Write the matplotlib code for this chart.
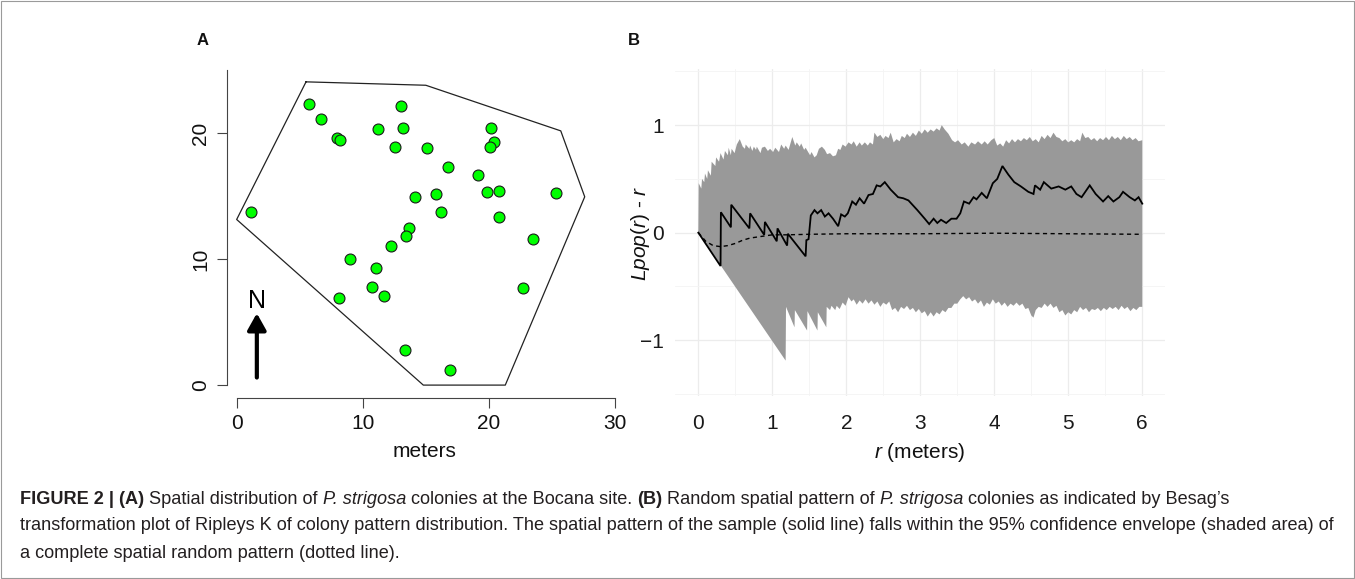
import matplotlib
matplotlib.use("Agg")
import matplotlib.pyplot as plt
from matplotlib import font_manager
from matplotlib.font_manager import FontProperties
from matplotlib.patches import Rectangle

W, H, DPI = 1355, 579, 100

# ---------------- Panel A data (meters) ----------------
colony_x = [5.74, 6.66, 7.93, 8.19, 1.14, 11.23, 13.00, 13.19, 12.56, 15.07, 16.79,
            20.14, 20.41, 20.12, 19.11, 19.88, 20.78, 25.32, 14.14, 15.83, 16.20,
            20.80, 13.69, 13.43, 12.21, 23.50, 8.99, 11.05, 10.73, 11.71, 8.14,
            22.68, 13.35, 16.94]
colony_y = [22.33, 21.11, 19.63, 19.42, 13.76, 20.32, 22.17, 20.37, 18.89, 18.84, 17.33,
            20.37, 19.29, 18.89, 16.67, 15.34, 15.40, 15.26, 14.89, 15.18, 13.70,
            13.35, 12.48, 11.84, 11.05, 11.61, 10.02, 9.28, 7.82, 7.08, 6.95,
            7.69, 2.78, 1.19]
hull_x = [5.5, 15.0, 25.7, 27.6, 21.3, 14.8, 0.0, 5.5]
hull_y = [24.06, 23.79, 20.17, 14.94, 0.0, 0.0, 13.14, 24.06]
a_xticks = [0, 10, 20, 30]
a_yticks = [0, 10, 20]

# ---------------- Panel B data ----------------
env_upper = [
    (0, 0), (0.005, 0.46), (0.04, 0.41), (0.05, 0.50), (0.08, 0.47), (0.09, 0.55), (0.12, 0.50),
    (0.13, 0.58), (0.17, 0.53), (0.18, 0.66), (0.23, 0.62), (0.24, 0.70), (0.28, 0.66), (0.30, 0.74),
    (0.34, 0.68), (0.36, 0.76), (0.40, 0.72), (0.41, 0.79), (0.44, 0.72), (0.45, 0.78), (0.49, 0.74),
    (0.52, 0.82), (0.56, 0.87), (0.60, 0.80), (0.63, 0.78), (0.64, 0.82), (0.69, 0.78), (0.70, 0.81),
    (0.73, 0.76), (0.75, 0.80), (0.78, 0.77), (0.79, 0.80), (0.84, 0.74), (0.86, 0.79), (0.90, 0.80),
    (0.94, 0.76), (0.97, 0.78), (1.01, 0.75), (1.04, 0.79), (1.09, 0.75), (1.12, 0.82), (1.16, 0.78),
    (1.18, 0.81), (1.22, 0.77), (1.27, 0.89), (1.31, 0.81), (1.33, 0.84), (1.37, 0.80), (1.39, 0.83),
    (1.43, 0.77), (1.45, 0.79), (1.51, 0.72), (1.53, 0.75), (1.57, 0.70), (1.60, 0.72), (1.63, 0.78),
    (1.67, 0.80), (1.71, 0.77), (1.74, 0.73), (1.78, 0.74), (1.82, 0.71), (1.86, 0.72), (1.89, 0.78),
    (1.92, 0.77), (1.95, 0.82), (1.99, 0.80), (2.03, 0.84), (2.07, 0.82), (2.10, 0.85), (2.14, 0.80),
    (2.18, 0.84), (2.21, 0.81), (2.25, 0.84), (2.29, 0.81), (2.32, 0.84), (2.36, 0.82), (2.38, 0.93),
    (2.42, 0.89), (2.46, 0.91), (2.50, 0.87), (2.53, 0.90), (2.57, 0.88), (2.60, 0.93), (2.64, 0.84),
    (2.68, 0.87), (2.72, 0.85), (2.75, 0.90), (2.79, 0.88), (2.82, 0.92), (2.86, 0.89), (2.90, 0.93),
    (2.94, 0.90), (2.98, 0.95), (3.02, 0.92), (3.06, 0.96), (3.10, 0.93), (3.14, 0.96), (3.18, 0.94),
    (3.22, 0.97), (3.26, 0.95), (3.29, 1.00), (3.33, 0.96), (3.38, 0.92), (3.43, 0.86), (3.47, 0.84),
    (3.51, 0.86), (3.56, 0.82), (3.60, 0.84), (3.65, 0.80), (3.69, 0.84), (3.74, 0.82), (3.78, 0.85),
    (3.83, 0.82), (3.87, 0.85), (3.91, 0.82), (3.96, 0.86), (4.00, 0.88), (4.04, 0.81), (4.08, 0.83),
    (4.12, 0.80), (4.16, 0.86), (4.20, 0.83), (4.24, 0.87), (4.28, 0.84), (4.32, 0.87), (4.36, 0.85),
    (4.40, 0.88), (4.44, 0.86), (4.48, 0.89), (4.52, 0.85), (4.56, 0.87), (4.60, 0.84), (4.64, 0.90),
    (4.68, 0.87), (4.72, 0.91), (4.76, 0.88), (4.80, 0.93), (4.84, 0.89), (4.88, 0.88), (4.92, 0.85),
    (4.96, 0.87), (5.00, 0.84), (5.04, 0.86), (5.08, 0.84), (5.12, 0.87), (5.16, 0.85), (5.19, 0.93),
    (5.23, 0.88), (5.27, 0.89), (5.31, 0.86), (5.35, 0.88), (5.39, 0.85), (5.43, 0.88), (5.47, 0.86),
    (5.51, 0.89), (5.55, 0.86), (5.59, 0.90), (5.63, 0.87), (5.67, 0.89), (5.71, 0.86), (5.75, 0.90),
    (5.79, 0.87), (5.83, 0.89), (5.87, 0.86), (5.91, 0.88), (5.95, 0.85), (6.00, 0.86)]
env_lower = [
    (0, 0), (1.18, -1.19), (1.185, -0.69), (1.30, -0.88), (1.305, -0.72), (1.47, -0.91),
    (1.475, -0.73), (1.61, -0.91), (1.615, -0.74), (1.73, -0.88), (1.735, -0.69), (1.78, -0.72),
    (1.80, -0.68), (1.85, -0.72), (1.87, -0.68), (1.91, -0.71), (1.95, -0.65), (1.99, -0.68),
    (2.03, -0.60), (2.07, -0.64), (2.10, -0.62), (2.14, -0.67), (2.18, -0.63), (2.22, -0.66),
    (2.26, -0.62), (2.30, -0.66), (2.34, -0.63), (2.38, -0.67), (2.42, -0.64), (2.46, -0.69),
    (2.50, -0.65), (2.54, -0.67), (2.58, -0.64), (2.62, -0.72), (2.66, -0.70), (2.70, -0.74),
    (2.74, -0.69), (2.78, -0.71), (2.82, -0.68), (2.86, -0.72), (2.90, -0.70), (2.94, -0.74),
    (2.98, -0.71), (3.02, -0.75), (3.06, -0.73), (3.10, -0.78), (3.14, -0.74), (3.18, -0.78),
    (3.22, -0.74), (3.26, -0.76), (3.30, -0.72), (3.34, -0.74), (3.38, -0.70), (3.42, -0.70),
    (3.46, -0.66), (3.50, -0.66), (3.54, -0.62), (3.58, -0.59), (3.62, -0.62), (3.66, -0.60),
    (3.70, -0.64), (3.74, -0.62), (3.78, -0.66), (3.82, -0.63), (3.86, -0.69), (3.90, -0.65),
    (3.94, -0.67), (3.98, -0.62), (4.02, -0.66), (4.06, -0.64), (4.10, -0.68), (4.14, -0.65),
    (4.18, -0.69), (4.22, -0.66), (4.26, -0.68), (4.30, -0.65), (4.34, -0.68), (4.38, -0.66),
    (4.42, -0.71), (4.46, -0.70), (4.50, -0.77), (4.53, -0.79), (4.56, -0.72), (4.60, -0.69),
    (4.64, -0.70), (4.68, -0.66), (4.72, -0.69), (4.76, -0.66), (4.80, -0.70), (4.84, -0.68),
    (4.88, -0.74), (4.92, -0.72), (4.96, -0.77), (5.00, -0.74), (5.04, -0.76), (5.08, -0.72),
    (5.12, -0.74), (5.16, -0.69), (5.20, -0.72), (5.24, -0.70), (5.28, -0.74), (5.32, -0.71),
    (5.36, -0.72), (5.40, -0.70), (5.44, -0.73), (5.48, -0.70), (5.52, -0.72), (5.56, -0.69),
    (5.60, -0.71), (5.64, -0.69), (5.68, -0.72), (5.72, -0.68), (5.76, -0.71), (5.80, -0.69),
    (5.84, -0.73), (5.88, -0.70), (5.92, -0.72), (5.96, -0.69), (6.00, -0.69)]
observed = [(0, 0), (0.30, -0.31), (0.305, 0.19), (0.44, 0.05), (0.445, 0.26), (0.69, 0.04),
            (0.70, 0.18), (0.89, -0.02), (0.90, 0.10), (1.06, -0.08), (1.07, 0.04), (1.20, -0.12),
            (1.21, -0.01), (1.45, -0.22), (1.46, -0.07), (1.49, -0.06), (1.52, 0.16), (1.57, 0.21),
            (1.61, 0.18), (1.66, 0.21), (1.71, 0.15), (1.76, 0.18), (1.82, 0.13), (1.89, 0.06),
            (1.93, 0.17), (1.98, 0.15), (2.02, 0.18), (2.08, 0.29), (2.13, 0.26), (2.18, 0.32),
            (2.24, 0.27), (2.30, 0.35), (2.36, 0.36), (2.41, 0.44), (2.46, 0.43), (2.52, 0.47),
            (2.60, 0.40), (2.70, 0.33), (2.77, 0.32), (2.84, 0.30), (2.96, 0.21), (3.06, 0.13),
            (3.12, 0.08), (3.18, 0.13), (3.23, 0.09), (3.28, 0.12), (3.35, 0.09), (3.42, 0.13),
            (3.49, 0.13), (3.54, 0.18), (3.59, 0.29), (3.66, 0.27), (3.72, 0.33), (3.76, 0.31),
            (3.83, 0.37), (3.90, 0.32), (3.98, 0.46), (4.04, 0.50), (4.11, 0.62), (4.19, 0.54),
            (4.27, 0.47), (4.36, 0.43), (4.46, 0.38), (4.53, 0.36), (4.55, 0.44), (4.62, 0.40),
            (4.67, 0.47), (4.77, 0.41), (4.87, 0.43), (4.96, 0.40), (5.04, 0.43), (5.11, 0.36),
            (5.18, 0.33), (5.29, 0.44), (5.37, 0.36), (5.47, 0.29), (5.54, 0.34), (5.61, 0.29),
            (5.69, 0.33), (5.74, 0.38), (5.83, 0.33), (5.90, 0.30), (5.95, 0.33), (6.00, 0.27)]
theoretical = [(0, 0), (0.1, -0.08), (0.2, -0.12), (0.3, -0.13), (0.4, -0.12), (0.5, -0.10),
               (0.6, -0.07), (0.7, -0.05), (0.8, -0.04), (0.9, -0.03), (1.0, -0.02), (1.2, -0.02),
               (1.5, -0.015), (2.0, -0.01), (3.0, -0.01), (4.0, -0.005), (5.0, -0.01), (6.0, -0.015)]
b_xticks = [0, 1, 2, 3, 4, 5, 6]
b_yticks = [-1, 0, 1]

caption_lines = [
    [("FIGURE 2 | (A)", "bold", "normal"), (" Spatial distribution of ", "normal", "normal"),
     ("P. strigosa", "normal", "italic"), (" colonies at the Bocana site. ", "normal", "normal"),
     ("(B)", "bold", "normal"), (" Random spatial pattern of ", "normal", "normal"),
     ("P. strigosa", "normal", "italic"),
     (" colonies as indicated by Besag\u2019s", "normal", "normal")],
    [("transformation plot of Ripleys K of colony pattern distribution. The spatial pattern of the "
      "sample (solid line) falls within the 95% confidence envelope (shaded area) of", "normal", "normal")],
    [("a complete spatial random pattern (dotted line).", "normal", "normal")],
]

# ---------------- fonts ----------------
plt.rcParams["font.family"] = ["Liberation Sans", "DejaVu Sans"]
plt.rcParams["mathtext.fontset"] = "custom"
plt.rcParams["mathtext.rm"] = "Liberation Sans"
plt.rcParams["mathtext.it"] = "Liberation Sans:italic"


def has_font(name):
    try:
        font_manager.findfont(FontProperties(family=name), fallback_to_default=False)
        return True
    except Exception:
        return False


cap_family = "Liberation Sans Narrow" if has_font("Liberation Sans Narrow") else "Liberation Sans"

fig = plt.figure(figsize=(W / DPI, H / DPI), dpi=DPI)

# figure border
fig.patches.append(Rectangle((0.0008, 0.0015), 0.9984, 0.997, transform=fig.transFigure,
                             fill=False, edgecolor="#9a9a9a", lw=0.8))


def px_axes(left, top, right, bottom):
    return fig.add_axes([left / W, 1 - bottom / H, (right - left) / W, (bottom - top) / H])


# ---------------- Panel A ----------------
axA = px_axes(226.7, 63.7, 627.6, 397.7)
axA.set_xlim(-0.79, 31.0)
axA.set_ylim(-1.0, 25.5)
axA.plot(hull_x, hull_y, color="#222222", lw=0.9, zorder=2)
axA.scatter(colony_x, colony_y, s=62, facecolor="#00FF00", edgecolor="#1a1a1a",
            linewidths=0.8, zorder=3)
axA.annotate("", xy=(1.6, 5.7), xytext=(1.6, 0.6),
             arrowprops=dict(arrowstyle="-|>,head_length=0.5,head_width=0.28",
                             mutation_scale=20, lw=3, color="black",
                             shrinkA=0, shrinkB=0))
axA.text(1.6, 6.7, "N", fontsize=18, ha="center", va="center", color="black")
for s in ["top", "right"]:
    axA.spines[s].set_visible(False)
axA.spines["left"].set_bounds(0, 25)
axA.spines["bottom"].set_bounds(0, 30)
for s in ["left", "bottom"]:
    axA.spines[s].set_color("#444444")
    axA.spines[s].set_linewidth(0.8)
axA.set_xticks(a_xticks)
axA.set_yticks(a_yticks)
axA.set_yticklabels([str(v) for v in a_yticks], rotation=90, va="center")
axA.tick_params(axis="both", length=7, width=0.8, color="#444444", labelsize=15,
                labelcolor="#111111")
axA.tick_params(axis="x", pad=5)
axA.tick_params(axis="y", pad=5)
axA.set_xlabel("meters", fontsize=15, color="#111111")
axA.xaxis.set_label_coords((425 - 226.7) / 400.9, -(451.7 - 397.7) / 334.0)
axA.xaxis.label.set_va("center")
axA.patch.set_alpha(0)

# ---------------- Panel B ----------------
bl, bt, br, bb = 675.4, 69.25, 1165.2, 396.1
axB = px_axes(bl, bt, br, bb)
axB.set_xlim(-0.31, 6.31)
axB.set_ylim(-1.52, 1.52)
axB.set_xticks(b_xticks)
axB.set_yticks(b_yticks)
axB.set_xticks([0.5, 1.5, 2.5, 3.5, 4.5, 5.5], minor=True)
axB.set_yticks([-1.5, -0.5, 0.5, 1.5], minor=True)
axB.grid(which="major", color="#ECECEC", lw=0.9)
axB.grid(which="minor", color="#F4F4F4", lw=0.6)
axB.set_axisbelow(True)
for s in axB.spines.values():
    s.set_visible(False)
axB.tick_params(which="both", length=0)
axB.tick_params(axis="x", labelsize=15, labelcolor="#1a1a1a", pad=13)
axB.tick_params(axis="y", labelsize=15, labelcolor="#1a1a1a", pad=8)

up_r = [p[0] for p in env_upper]
up_v = [p[1] for p in env_upper]
lo_r = [p[0] for p in env_lower]
lo_v = [p[1] for p in env_lower]
axB.fill(up_r + lo_r[::-1], up_v + lo_v[::-1], color="#999999", lw=0, zorder=2)
axB.plot([p[0] for p in observed], [p[1] for p in observed], color="black", lw=1.3,
         zorder=3, solid_joinstyle="miter")
axB.plot([p[0] for p in theoretical], [p[1] for p in theoretical], color="black", lw=1.0,
         ls=(0, (3, 2.5)), zorder=3)

axB.set_xlabel(r"$\mathit{r}$ (meters)", fontsize=15, color="#111111")
axB.xaxis.set_label_coords((920 - bl) / (br - bl), -(452 - bb) / (bb - bt))
axB.xaxis.label.set_va("center")
axB.set_ylabel(r"$\mathit{Lpop}$($\mathit{r}$) - $\mathit{r}$", fontsize=15, color="#111111")
axB.yaxis.set_label_coords((640 - bl) / (br - bl), (bb - 233) / (bb - bt))
axB.yaxis.label.set_va("center")
axB.patch.set_alpha(0)

# panel letters
fig.text(203 / W, 1 - 45 / H, "A", fontsize=12, fontweight="bold", ha="center",
         va="baseline", color="#111111")
fig.text(634 / W, 1 - 45 / H, "B", fontsize=12, fontweight="bold", ha="center",
         va="baseline", color="#111111")

# ---------------- caption ----------------
renderer = fig.canvas.get_renderer()


def seg_width(text, size, weight, style):
    fp = FontProperties(family=[cap_family, "DejaVu Sans"], size=size, weight=weight, style=style)
    t1 = fig.text(0, 0, "|" + text + "|", fontproperties=fp)
    t2 = fig.text(0, 0, "||", fontproperties=fp)
    w = t1.get_window_extent(renderer).width - t2.get_window_extent(renderer).width
    t1.remove()
    t2.remove()
    return w


base = 10.0
w_line2 = sum(seg_width(t, base, wt, st) for t, wt, st in caption_lines[1])
cap_size = base * 1320.0 / w_line2

line_y = [499, 526, 553]
for segs, yc in zip(caption_lines, line_y):
    x = 20.0
    for t, wt, st in segs:
        fp = FontProperties(family=[cap_family, "DejaVu Sans"], size=cap_size, weight=wt, style=st)
        lead = len(t) - len(t.lstrip(" "))
        xs = x + (seg_width(" " * lead, cap_size, wt, st) if lead else 0)
        fig.text(xs / W, 1 - yc / H, t.strip(" "), fontproperties=fp, ha="left",
                 va="center", color="#231f20")
        x += seg_width(t, cap_size, wt, st)

fig.savefig("out.png", dpi=DPI)
